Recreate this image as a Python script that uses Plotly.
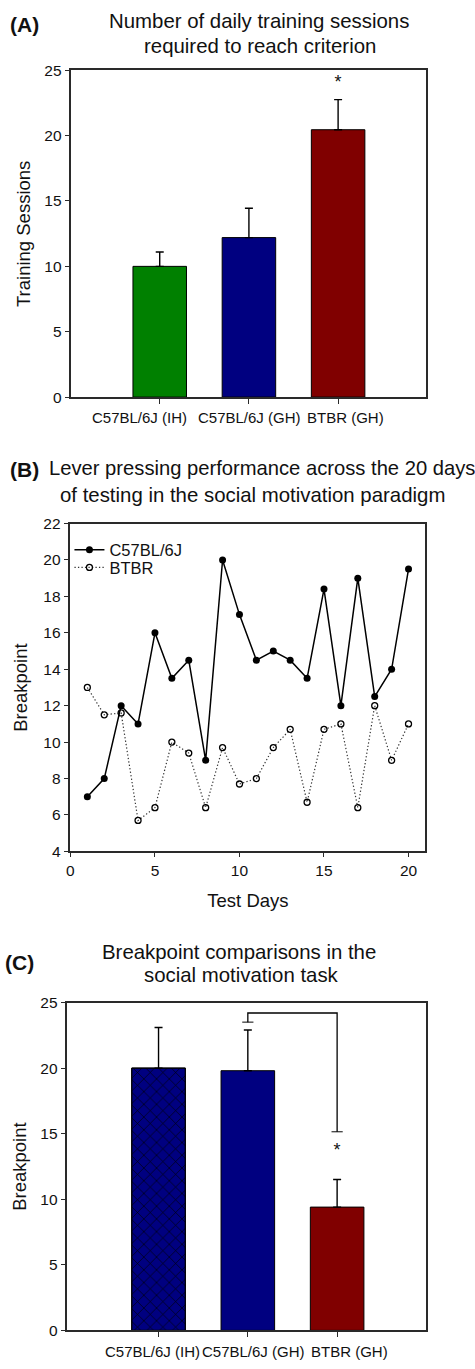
import plotly.graph_objects as go

W, H = 475, 1369
FONT = "Liberation Sans, Arial, Helvetica, sans-serif"
INK = "#111111"
AXC = "#2a2a2a"

# ---------------- data ----------------
# Panel A: training sessions to criterion
groups = ["C57BL/6J (IH)", "C57BL/6J (GH)", "BTBR (GH)"]
sessions = [10.0, 12.2, 20.45]
sessions_sem = [1.1, 2.25, 2.3]
colors_a = ["#008000", "#000080", "#800000"]
star_a = [24.0]

# Panel B: breakpoint across test days
days = list(range(1, 21))
c57_bp = [7.0, 8.0, 12.0, 11.0, 16.0, 13.5, 14.5, 9.0, 20.0, 17.0,
          14.5, 15.0, 14.5, 13.5, 18.4, 12.0, 19.0, 12.5, 14.0, 19.5]
btbr_bp = [13.0, 11.5, 11.6, 5.7, 6.4, 10.0, 9.4, 6.4, 9.7, 7.7,
           8.0, 9.7, 10.7, 6.7, 10.7, 11.0, 6.4, 12.0, 9.0, 11.0]

# Panel C: breakpoint comparisons
bp_means = [20.0, 19.8, 9.4]
bp_sem = [3.1, 3.1, 2.1]
colors_c = ["#000080", "#000080", "#800000"]
hatched = [groups[0]]
bracket_y = [23.5, 24.2, 24.2, 15.15]
star_c = [13.65]


def px(x):
    return x / W


def py(y):
    return 1 - y / H


fig = go.Figure()

# ---------- Panel A ----------
fig.add_trace(go.Bar(
    x=groups, y=sessions, xaxis="x", yaxis="y", width=0.6,
    marker=dict(color=colors_a, line=dict(color="black", width=1)),
    error_y=dict(type="data", array=sessions_sem, arrayminus=[0, 0, 0],
                 symmetric=False, color="black", thickness=1.4, width=4),
    showlegend=False, hoverinfo="skip"))
fig.add_trace(go.Scatter(
    x=[groups[2]], y=star_a, xaxis="x", yaxis="y", mode="text", text=["*"],
    textfont=dict(size=18, color=INK, family=FONT), showlegend=False,
    hoverinfo="skip"))

# ---------- Panel B ----------
fig.add_trace(go.Scatter(
    x=days, y=c57_bp, xaxis="x2", yaxis="y2", mode="lines+markers",
    name="C57BL/6J", legend="legend",
    line=dict(color="black", width=1.5),
    marker=dict(symbol="circle", size=7, color="black"), hoverinfo="skip"))
fig.add_trace(go.Scatter(
    x=days, y=btbr_bp, xaxis="x2", yaxis="y2", mode="lines+markers",
    name="BTBR", legend="legend2",
    line=dict(color="#333333", width=1.2, dash="1.3px,2.2px"),
    marker=dict(symbol="circle-open", size=6, color="black",
                line=dict(width=1.3, color="black")), hoverinfo="skip"))

# ---------- Panel C ----------
fig.add_trace(go.Bar(
    x=groups, y=bp_means, xaxis="x3", yaxis="y3", width=0.6,
    marker=dict(color=colors_c, line=dict(color="black", width=1)),
    error_y=dict(type="data", array=bp_sem, arrayminus=[0, 0, 0],
                 symmetric=False, color="black", thickness=1.4, width=4),
    showlegend=False, hoverinfo="skip"))
# cross-hatch layer on the first group's bar
fig.add_trace(go.Bar(
    x=hatched, y=bp_means[:1], xaxis="x3", yaxis="y3", width=0.6,
    marker=dict(color="black", line=dict(color="black", width=1),
                pattern=dict(shape="x", size=9, solidity=0.13,
                             fillmode="replace")),
    showlegend=False, hoverinfo="skip"))
fig.add_trace(go.Scatter(
    x=[groups[1], groups[1], groups[2], groups[2]], y=bracket_y,
    xaxis="x3", yaxis="y3", mode="lines+markers",
    line=dict(color="black", width=1.3),
    marker=dict(symbol="line-ew", size=[8, 0, 0, 8], color="black",
                line=dict(color="black", width=1.4)),
    showlegend=False, hoverinfo="skip"))
fig.add_trace(go.Scatter(
    x=[groups[2]], y=star_c, xaxis="x3", yaxis="y3", mode="text", text=["*"],
    textfont=dict(size=18, color=INK, family=FONT), showlegend=False,
    hoverinfo="skip"))

axis_common = dict(showline=True, linecolor=AXC, linewidth=1.5, mirror=True,
                   ticks="outside", ticklen=5, tickwidth=1.3, tickcolor=AXC,
                   showgrid=False, zeroline=False,
                   tickfont=dict(size=15.5, color=INK, family=FONT))
title_font = dict(size=18.5, color=INK, family=FONT)

fig.update_layout(
    width=W, height=H, autosize=False,
    margin=dict(l=0, r=0, t=0, b=0),
    paper_bgcolor="white", plot_bgcolor="white",
    font=dict(family=FONT, color=INK),
    barmode="overlay",
    xaxis=dict(axis_common, domain=[px(68), px(426)], anchor="y",
               type="category", range=[-0.99, 2.99], showticklabels=False),
    yaxis=dict(axis_common, domain=[py(393), py(62)], anchor="x",
               range=[0, 25], dtick=5),
    xaxis2=dict(axis_common, domain=[px(67), px(425)], anchor="y2",
                range=[0, 21], tickvals=[0, 5, 10, 15, 20], ticklen=4,
                title=dict(text="Test Days", font=title_font, standoff=16)),
    yaxis2=dict(axis_common, domain=[py(853), py(521)], anchor="x2",
                range=[4, 22], dtick=2),
    xaxis3=dict(axis_common, domain=[px(64), px(426)], anchor="y3",
                type="category", range=[-1.02, 3.0], showticklabels=False),
    yaxis3=dict(axis_common, domain=[py(1338), py(1006)], anchor="x3",
                range=[0, 25], dtick=5),
    legend=dict(x=px(66), y=py(530), xanchor="left", yanchor="top",
                bgcolor="rgba(0,0,0,0)", borderwidth=0,
                font=dict(size=16.5, color=INK, family=FONT)),
    legend2=dict(x=px(66), y=py(548), xanchor="left", yanchor="top",
                 bgcolor="rgba(0,0,0,0)", borderwidth=0,
                 font=dict(size=16.5, color=INK, family=FONT)),
)

ann = []


def text(t, x, y, size=20.4, bold=False, xanchor="center", angle=0):
    ann.append(dict(text=f"<b>{t}</b>" if bold else t, x=px(x), y=py(y),
                    xref="paper", yref="paper", xanchor=xanchor,
                    yanchor="middle", showarrow=False, textangle=angle,
                    font=dict(size=size, color=INK, family=FONT)))


text("(A)", 20.5, 15.5, size=21, bold=True)
text("Number of daily training sessions", 257.5, 12.5)
text("required to reach criterion", 258, 37)
text("(B)", 20.5, 466, size=21, bold=True)
text("Lever pressing performance across the 20 days", 43, 465, size=20.2,
     xanchor="left")
text("of testing in the social motivation paradigm", 250.8, 492)
text("(C)", 16, 965, size=21, bold=True)
text("Breakpoint comparisons in the", 236.7, 955)
text("social motivation task", 240, 978)

# y-axis titles
text("Training Sessions", 19.5, 227.5, size=18.5, angle=-90)
text("Breakpoint", 16.5, 687, size=18.5, angle=-90)
text("Breakpoint", 15.5, 1172, size=18.5, angle=-90)

# category labels (offset as in the original layout)
for g, dx in zip(groups, [-20, 1, 7]):
    ann.append(dict(text=g, x=g, xref="x", y=py(414), yref="paper",
                    xshift=dx, showarrow=False, yanchor="middle",
                    font=dict(size=15, color=INK, family=FONT)))
for g, dx in zip(groups, [-6, 6, 12]):
    ann.append(dict(text=g, x=g, xref="x3", y=py(1359), yref="paper",
                    xshift=dx, showarrow=False, yanchor="middle",
                    font=dict(size=15, color=INK, family=FONT)))

fig.update_layout(annotations=ann)
fig.write_html("out.html", config={"displayModeBar": False},
               post_script="document.body.style.margin='0px';"
                           "document.body.style.overflow='hidden';")
